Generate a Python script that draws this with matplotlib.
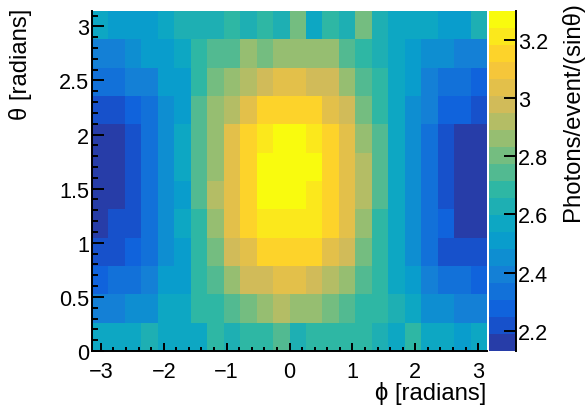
import numpy as np
import matplotlib
matplotlib.use("Agg")
import matplotlib.pyplot as plt
from matplotlib.colors import LinearSegmentedColormap, ListedColormap, Normalize
from matplotlib.ticker import MultipleLocator, FuncFormatter

plt.rcParams['font.family'] = ['Liberation Sans', 'DejaVu Sans']

# ---- data: photons/event/(sin theta), rows from theta=0 (bottom) upward, 24 phi bins each
theta_row_01 = [2.57,2.57,2.57,2.63,2.57,2.57,2.57,2.69,2.63,2.69,2.69,2.74, 2.63,2.69,2.69,2.69,2.69,2.63,2.57,2.69,2.57,2.57,2.51,2.57]
theta_row_02 = [2.39,2.39,2.45,2.45,2.57,2.57,2.69,2.69,2.74,2.80,2.86,2.92, 2.86,2.86,2.80,2.74,2.69,2.69,2.63,2.57,2.45,2.45,2.39,2.39]
theta_row_03 = [2.28,2.33,2.33,2.39,2.51,2.51,2.69,2.74,2.86,2.98,2.98,3.04, 3.04,2.98,2.92,2.86,2.74,2.69,2.57,2.51,2.39,2.33,2.33,2.28]
theta_row_04 = [2.22,2.22,2.28,2.33,2.45,2.51,2.69,2.80,2.98,3.04,3.15,3.15, 3.15,3.15,3.04,2.98,2.80,2.69,2.57,2.45,2.33,2.22,2.22,2.22]
theta_row_05 = [2.16,2.22,2.22,2.33,2.45,2.57,2.69,2.86,3.04,3.15,3.21,3.21, 3.21,3.21,3.15,3.04,2.86,2.69,2.57,2.45,2.33,2.28,2.16,2.16]
theta_row_06 = [2.16,2.16,2.22,2.33,2.45,2.51,2.74,2.92,3.04,3.15,3.27,3.27, 3.27,3.21,3.15,3.04,2.92,2.74,2.57,2.45,2.33,2.22,2.16,2.16]
theta_row_07 = [2.16,2.16,2.22,2.33,2.45,2.57,2.74,2.86,3.04,3.15,3.27,3.27, 3.27,3.27,3.15,3.04,2.92,2.74,2.57,2.45,2.33,2.22,2.16,2.16]
theta_row_08 = [2.16,2.16,2.22,2.33,2.45,2.57,2.74,2.86,3.04,3.15,3.21,3.27, 3.27,3.21,3.15,3.04,2.86,2.74,2.57,2.45,2.33,2.22,2.16,2.16]
theta_row_09 = [2.22,2.22,2.28,2.33,2.45,2.51,2.74,2.86,2.92,3.04,3.15,3.15, 3.15,3.15,3.04,2.98,2.80,2.69,2.57,2.45,2.39,2.28,2.28,2.22]
theta_row_10 = [2.33,2.33,2.39,2.39,2.51,2.51,2.69,2.80,2.86,2.92,2.98,3.04, 3.04,2.98,2.98,2.86,2.74,2.69,2.57,2.51,2.39,2.33,2.33,2.28]
theta_row_11 = [2.39,2.39,2.45,2.51,2.51,2.57,2.69,2.74,2.74,2.86,2.80,2.86, 2.86,2.86,2.86,2.74,2.69,2.63,2.57,2.51,2.45,2.45,2.39,2.39]
theta_row_12 = [2.57,2.51,2.51,2.51,2.57,2.63,2.63,2.63,2.69,2.63,2.69,2.63, 2.80,2.57,2.69,2.63,2.80,2.63,2.57,2.57,2.57,2.51,2.51,2.63]

z_min, z_max = 2.13, 3.30
n_contours = 20
x_ticks = [-3, -2, -1, 0, 1, 2, 3]
y_ticks = [0, 0.5, 1, 1.5, 2, 2.5, 3]
z_ticks = [2.2, 2.4, 2.6, 2.8, 3.0, 3.2]

Z = np.array([theta_row_01, theta_row_02, theta_row_03, theta_row_04, theta_row_05, theta_row_06,
              theta_row_07, theta_row_08, theta_row_09, theta_row_10, theta_row_11, theta_row_12])
n_theta, n_phi = Z.shape
phi_edges = np.linspace(-np.pi, np.pi, n_phi + 1)
theta_edges = np.linspace(0, np.pi, n_theta + 1)

# ---- ROOT kBird palette, quantised to 20 contour levels
stops = [0.0, 0.125, 0.25, 0.375, 0.5, 0.625, 0.75, 0.875, 1.0]
red = [0.2082, 0.0592, 0.0780, 0.0232, 0.1802, 0.5301, 0.8186, 0.9956, 0.9764]
green = [0.1664, 0.3599, 0.5041, 0.6419, 0.7178, 0.7492, 0.7328, 0.7862, 0.9832]
blue = [0.5293, 0.8684, 0.8385, 0.7914, 0.6425, 0.4662, 0.3499, 0.1968, 0.0539]
grad = LinearSegmentedColormap.from_list('bird', list(zip(stops, zip(red, green, blue))), N=255)
band_colors = [grad(int((i + 0.99) * 255 / n_contours) / 254.0) for i in range(n_contours)]
cmap = ListedColormap(band_colors)
norm = Normalize(vmin=z_min, vmax=z_max)

W, H = 587, 406
fig = plt.figure(figsize=(W / 100, H / 100), dpi=100)
ax = fig.add_axes([92 / W, 1 - 352 / H, 395 / W, 340 / H])
cax = fig.add_axes([489 / W, 1 - 352 / H, 27 / W, 340 / H])

ax.pcolormesh(phi_edges, theta_edges, Z, cmap=cmap, norm=norm, shading='flat')
ax.set_xlim(-np.pi, np.pi)
ax.set_ylim(0, np.pi)

fs = 15.6
fs_title = 17.2
fmt = FuncFormatter(lambda v, p: ('%g' % v).replace('-', '\u2212'))
ax.set_xticks(x_ticks)
ax.set_yticks(y_ticks)
ax.xaxis.set_minor_locator(MultipleLocator(0.2))
ax.yaxis.set_minor_locator(MultipleLocator(0.1))
ax.xaxis.set_major_formatter(fmt)
ax.yaxis.set_major_formatter(fmt)
ax.tick_params(axis='both', which='both', direction='in', top=False, right=False, width=1.4, labelsize=fs)
ax.tick_params(axis='x', which='major', length=6.0, pad=7)
ax.tick_params(axis='x', which='minor', length=3.0)
ax.tick_params(axis='y', which='major', length=8.6, pad=2)
ax.tick_params(axis='y', which='minor', length=4.3)
for s in ['top', 'right']:
    ax.spines[s].set_visible(False)
for s in ['left', 'bottom']:
    ax.spines[s].set_linewidth(1.4)

# ---- palette axis
levels = np.linspace(z_min, z_max, n_contours + 1)
centers = 0.5 * (levels[:-1] + levels[1:])
cax.pcolormesh([0, 1], levels, centers[:, None], cmap=cmap, norm=norm, shading='flat')
cax.set_xlim(0, 1)
cax.set_ylim(z_min, z_max)
cax.set_xticks([])
cax.yaxis.tick_right()
cax.set_yticks(z_ticks)
cax.yaxis.set_major_formatter(fmt)
cax.tick_params(axis='y', which='both', direction='in', length=8.6, width=1.4, pad=1.5, labelsize=fs, left=False)
for s in ['top', 'left', 'bottom']:
    cax.spines[s].set_visible(False)
cax.spines['right'].set_linewidth(1.4)

# ---- titles
fig.text(486 / W, 1 - 400 / H, '\u03d5 [radians]', ha='right', va='baseline', fontsize=fs_title)
fig.text(21 / W, 1 - 9 / H, '\u03b8 [radians]', ha='center', va='top', rotation=90, fontsize=fs_title)
fig.text(572 / W, 1 - 2 / H, 'Photons/event/(sin\u03b8)', ha='center', va='top', rotation=90, fontsize=fs_title)

fig.savefig('out.png', dpi=100)
